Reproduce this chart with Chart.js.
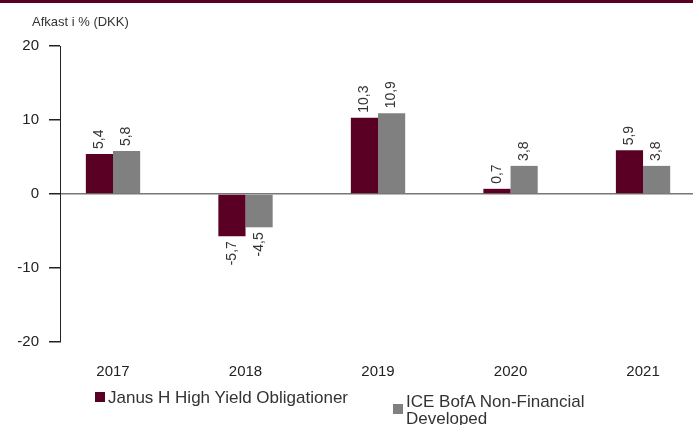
<!DOCTYPE html>
<html>
<head>
<meta charset="utf-8">
<script src="https://cdn.jsdelivr.net/npm/chart.js@4"></script>
<style>
  html, body { margin: 0; padding: 0; background: #fff; overflow: hidden; }
  #wrap { position: relative; width: 693px; height: 425px; }
  #topbar { position: absolute; left: 0; top: 0; width: 693px; height: 3px; background: #5a0024; }
  .lg { position: absolute; font-family: "Liberation Sans", Arial, sans-serif; font-size: 17px; color: #333; line-height: 17px; }
  .lg i { position: absolute; width: 10px; height: 10px; }
</style>
</head>
<body>
<div id="wrap">
  <canvas id="barChart" width="693" height="425"></canvas>
  <div id="topbar"></div>
  <div class="lg" style="left:95px; top:389px;"><i style="left:0; top:3px; background:#5a0024;"></i><span style="margin-left:13px;">Janus H High Yield Obligationer</span></div>
  <div class="lg" style="left:393px; top:393px;"><i style="left:0; top:11px; background:#808080;"></i><div style="margin-left:13px;">ICE BofA Non-Financial<br>Developed</div></div>
</div>
<script>
const years = ['2017', '2018', '2019', '2020', '2021'];
const fundVals = [5.4, -5.7, 10.3, 0.7, 5.9];
const indexVals = [5.8, -4.5, 10.9, 3.8, 3.8];
const yTicks = [20, 10, 0, -10, -20];

const fontFam = '"Liberation Sans", Arial, sans-serif';

function toPts(vals) {
  return vals.map((v, i) => ({ x: i, y: v }));
}

function fmt(v) {
  return String(v).replace('.', ',');
}

// rotated value labels over/under each bar
const valLabels = {
  id: 'valLabels',
  afterDatasetsDraw(chart) {
    const c = chart.ctx;
    c.save();
    c.font = '14px ' + fontFam;
    c.fillStyle = '#333';
    c.textBaseline = 'middle';
    chart.data.datasets.forEach((ds, di) => {
      chart.getDatasetMeta(di).data.forEach((bar, i) => {
        const v = ds.data[i].y;
        c.save();
        c.translate(bar.x, bar.y);
        c.rotate(-Math.PI / 2);
        if (v >= 0) {
          c.textAlign = 'left';
          c.fillText(fmt(v), 5, 0);
        } else {
          c.textAlign = 'right';
          c.fillText(fmt(v), -5, 0);
        }
        c.restore();
      });
    });
    c.restore();
  }
};

// axis title in the top left corner
const yTitle = {
  id: 'yTitle',
  afterDraw(chart) {
    const c = chart.ctx;
    c.save();
    c.font = '13px ' + fontFam;
    c.fillStyle = '#333';
    c.textAlign = 'left';
    c.textBaseline = 'middle';
    c.fillText('Afkast i % (DKK)', 32, 22);
    c.restore();
  }
};

const ctx = document.getElementById('barChart').getContext('2d');
new Chart(ctx, {
  type: 'bar',
  data: {
    datasets: [{
      label: 'Janus H High Yield Obligationer',
      data: toPts(fundVals),
      backgroundColor: '#5a0024',
      barPercentage: 1,
      categoryPercentage: 0.41
    }, {
      label: 'ICE BofA Non-Financial Developed',
      data: toPts(indexVals),
      backgroundColor: '#808080',
      barPercentage: 1,
      categoryPercentage: 0.41
    }]
  },
  options: {
    responsive: false,
    animation: false,
    layout: { padding: { top: 46, right: 0, left: 0, bottom: 0 } },
    plugins: {
      legend: { display: false },
      tooltip: { enabled: false }
    },
    scales: {
      x: {
        type: 'linear',
        offset: false,
        min: -0.4,
        max: 4.377,
        afterBuildTicks: (s) => { s.ticks = years.map((y, i) => ({ value: i })); },
        afterFit: (s) => { s.height = 83; },
        grid: { display: false, offset: false },
        border: { display: false },
        ticks: {
          color: '#222',
          font: { family: fontFam, size: 15 },
          padding: 13,
          maxRotation: 0,
          callback: (v) => years[v]
        }
      },
      y: {
        min: -20,
        max: 20,
        afterBuildTicks: (s) => { s.ticks = yTicks.map(v => ({ value: v })); },
        afterFit: (s) => { s.width = 60; },
        grid: {
          color: (c) => c.tick && c.tick.value === 0 ? '#777' : 'rgba(0,0,0,0)',
          tickColor: '#222',
          tickLength: 11,
          lineWidth: 1.5
        },
        border: { display: true, color: '#222', width: 1 },
        ticks: {
          color: '#222',
          font: { family: fontFam, size: 15 },
          padding: 10
        }
      }
    }
  },
  plugins: [valLabels, yTitle]
});
</script>
</body>
</html>
